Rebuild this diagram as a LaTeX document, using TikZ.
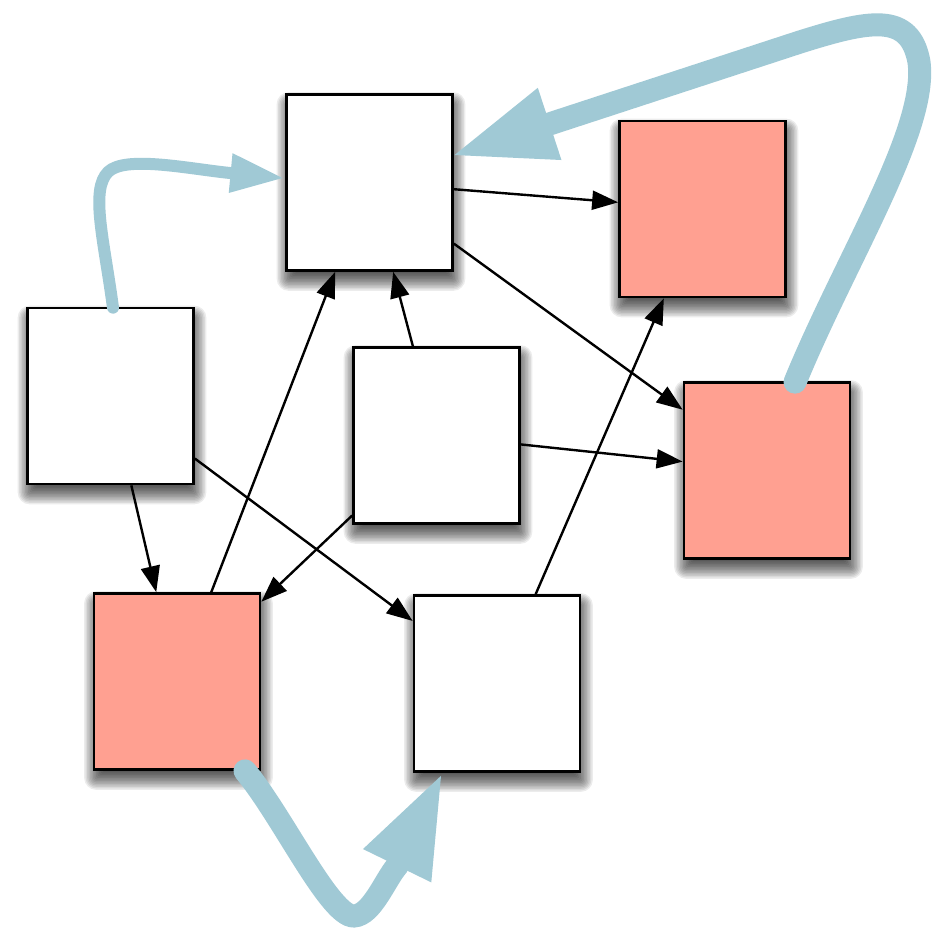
\documentclass[tikz,border=0pt]{standalone}
\usetikzlibrary{arrows.meta,backgrounds}
\definecolor{salmon}{RGB}{255,160,145}
\definecolor{flowblue}{RGB}{160,201,213}
\begin{document}
\begin{tikzpicture}[x=1pt,y=-1pt,
  box/.style={draw=black, line width=2.7pt, fill=white,
    minimum width=166pt, minimum height=176pt, inner sep=0pt},
  hot/.style={box, fill=salmon},
  shadowlayer/.style={fill=black, opacity=0.075},
  link/.style={draw=black, line width=2.4pt, -{Triangle[length=26pt,width=19pt]}},
  flowthin/.style={draw=flowblue, line width=12pt, line cap=round,
    -{Triangle[length=52pt,width=40pt,line width=0pt]}},
  flowthick/.style={draw=flowblue, line width=23pt, line cap=round,
    -{Triangle[length=100pt,width=76pt,line width=0pt]}}]

\useasboundingbox (0,0) rectangle (951,929);

% boxes
\node[box] (A) at (369.5,182.5) {};
\node[hot] (B) at (702.5,209) {};
\node[box] (C) at (110.5,396) {};
\node[box] (D) at (436.5,435.5) {};
\node[hot] (E) at (767,470.5) {};
\node[hot] (F) at (177,681.5) {};
\node[box] (G) at (497,683.5) {};

% soft drop shadows, built from stacked translucent rectangles
\begin{scope}[on background layer]
  \fill[white] (0,0) rectangle (951,929);
  \foreach \n in {A,B,C,D,E,F,G}{
    \foreach \e in {-8,-6.5,...,10}{
      \pgfmathsetmacro\sxa{1.5-\e}
      \pgfmathsetmacro\sya{-9-\e}
      \pgfmathsetmacro\sxb{1.5+\e}
      \pgfmathsetmacro\syb{-9+\e}
      \pgfmathsetmacro\rc{max(\e,0)+2}
      \fill[shadowlayer, rounded corners=\rc pt]
        ([shift={(\sxa pt,\sya pt)}]\n.south west) rectangle
        ([shift={(\sxb pt,\syb pt)}]\n.north east);
    }
  }
\end{scope}

% thin black links
\draw[link] (A) -- (B);
\draw[link] (A) -- (E);
\draw[link] (D) -- (A);
\draw[link] (D) -- (E);
\draw[link] (D) -- (F);
\draw[link] (C) -- (F);
\draw[link] (C) -- (G);
\draw[link] (F) -- (A);
\draw[link] (G) -- (B);

% broad blue flows
\draw[flowthin] ([xshift=2.5pt,yshift=-1pt]C.north)
  .. controls (104,240) and (90,190) .. (108,172)
  .. controls (125,155) and (190,169) .. (230,173)
  -- ([xshift=-2.75pt,yshift=4.5pt]A.west);

\draw[flowthick] ([xshift=28pt,yshift=-1pt]E.north)
  .. controls (845,260) and (928,130) .. (919,62)
  .. controls (910,12) and (870,20) .. (800,42)
  -- ([xshift=0.75pt,yshift=27.5pt]A.east);

\draw[flowthick] ([xshift=68pt]F.south)
  .. controls (282,815) and (330,917) .. (354,916)
  .. controls (372,915) and (385,880) .. (397,866)
  -- ([xshift=-56pt,yshift=-3pt]G.south);
\end{tikzpicture}
\end{document}
